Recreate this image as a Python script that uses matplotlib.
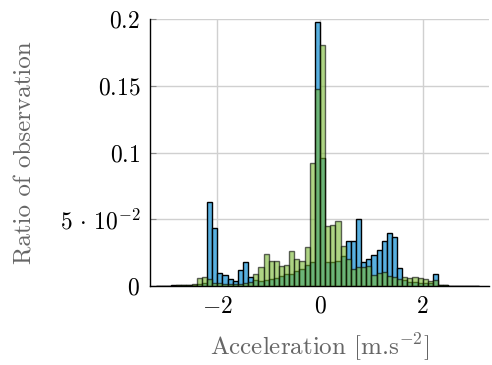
import matplotlib
matplotlib.use('Agg')
import matplotlib.pyplot as plt
import numpy as np

# bin left edges: -3.2 .. 3.0, width 0.1
bin_start = -3.2
bin_width = 0.1

blue = [0.0002, 0.0003, 0.0003, 0.0004, 0.0004, 0.0005, 0.0006, 0.0008, 0.0015, 0.0025,
        0.0628, 0.0435, 0.0095, 0.0085, 0.0052, 0.0035, 0.0118, 0.018, 0.0065, 0.0045,
        0.004, 0.0045, 0.0055, 0.006, 0.0075, 0.009, 0.009, 0.011, 0.0125, 0.016,
        0.018, 0.1975, 0.0958, 0.018, 0.018, 0.019, 0.0225, 0.0335, 0.034, 0.0505,
        0.018, 0.0205, 0.023, 0.027, 0.034, 0.040, 0.0365, 0.0138, 0.0045, 0.003,
        0.003, 0.0025, 0.002, 0.002, 0.0088, 0.0005, 0.0004, 0.0003, 0.0003, 0.0002,
        0.0002, 0.0002, 0.0001]

green = [0.0002, 0.0002, 0.0003, 0.0003, 0.0004, 0.0005, 0.001, 0.0018, 0.0058, 0.0065,
         0.005, 0.0025, 0.002, 0.0015, 0.0012, 0.0015, 0.0015, 0.002, 0.003, 0.0088,
         0.014, 0.024, 0.019, 0.019, 0.0148, 0.016, 0.026, 0.020, 0.019, 0.029,
         0.092, 0.1475, 0.1808, 0.045, 0.0458, 0.049, 0.030, 0.020, 0.0125, 0.0145,
         0.014, 0.015, 0.008, 0.0095, 0.0105, 0.0075, 0.0065, 0.005, 0.0065, 0.0057,
         0.007, 0.006, 0.0053, 0.004, 0.0045, 0.0006, 0.0004, 0.0003, 0.0003, 0.0002,
         0.0002, 0.0002, 0.0001]

edges = bin_start + bin_width * np.arange(len(blue))

plt.rcParams['font.family'] = 'serif'
plt.rcParams['font.serif'] = ['cmr10', 'DejaVu Serif']
plt.rcParams['mathtext.fontset'] = 'cm'
plt.rcParams['axes.formatter.use_mathtext'] = True

fig = plt.figure(figsize=(4.92, 3.65), dpi=100)
ax = fig.add_axes([150/492, 79/365, 339/492, 267/365])

ax.bar(edges, blue, width=bin_width, align='edge', color='#58B0E0',
       edgecolor='black', linewidth=1.0, zorder=2)
ax.bar(edges, green, width=bin_width, align='edge', color=(0.47, 0.72, 0.2, 0.6),
       edgecolor=(0, 0, 0, 0.6), linewidth=1.0, zorder=3)

ax.set_xlim(-3.31, 3.29)
ax.set_ylim(0, 0.2)
ax.set_xticks([-2, 0, 2])
ax.set_xticklabels([r'$-2$', r'$0$', r'$2$'])
ax.set_yticks([0, 0.05, 0.1, 0.15, 0.2])
ax.set_yticklabels([r'$0$', r'$5\,\cdot\,10^{-2}$', r'$0.1$', r'$0.15$', r'$0.2$'])
ax.tick_params(direction='in', length=4, color='#888888', labelsize=17, pad=7)
ax.grid(True, color='#d0d0d0', linewidth=1.0, zorder=0)
ax.set_axisbelow(True)

for s in ['top', 'right']:
    ax.spines[s].set_visible(False)
ax.spines['left'].set_linewidth(1.0)
ax.spines['bottom'].set_linewidth(1.0)

ax.set_ylabel('Ratio of observation', fontsize=18, color='#666666')
ax.set_xlabel(r'Acceleration [m.s$^{\mathrm{-2}}$]', fontsize=18, color='#666666')
ax.yaxis.set_label_coords(-0.335, 0.5)
ax.xaxis.set_label_coords(0.5, -0.17)

fig.savefig('out.png', dpi=100)
